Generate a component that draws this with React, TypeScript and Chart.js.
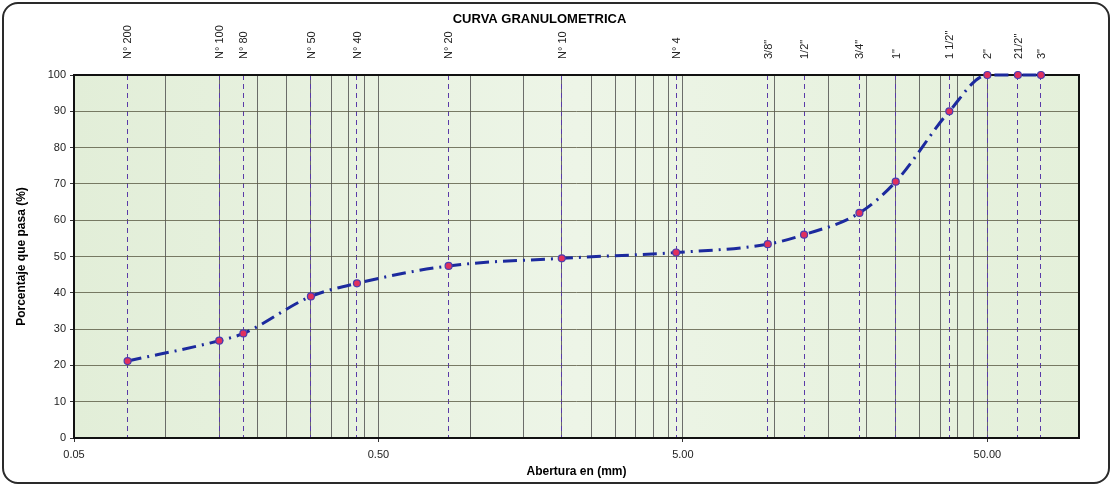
import React, { useEffect, useRef } from "react";
import { Chart, registerables } from "chart.js";

Chart.register(...registerables);

const FONT = "'Liberation Sans', Arial, sans-serif";

// Sieve openings (mm) and names
const sieveSizes = [0.075, 0.15, 0.18, 0.3, 0.425, 0.85, 2.0, 4.75, 9.5, 12.5, 19.0, 25.0, 37.5, 50.0, 63.0, 75.0];
const sieveLabels = ["N° 200", "N° 100", "N° 80", "N° 50", "N° 40", "N° 20", "N° 10", "N° 4", '3/8"', '1/2"', '3/4"', '1"', '1 1/2"', '2"', '21/2"', '3"'];
// Percent passing
const percentPassing = [21.2, 26.8, 28.8, 39.0, 42.6, 47.4, 49.5, 51.1, 53.4, 56.0, 62.0, 70.6, 90.0, 100, 100, 100];

// Bottom axis grid positions and labelled ticks
const gridValues = [
  0.05, 0.1, 0.15, 0.2, 0.25, 0.3, 0.35, 0.4, 0.45,
  0.5, 1, 1.5, 2, 2.5, 3, 3.5, 4, 4.5,
  5, 10, 15, 20, 25, 30, 35, 40, 45,
  50, 100,
];
const majorValues = [0.05, 0.5, 5, 50];
const majorLabels = ["0.05", "0.50", "5.00", "50.00"];

const TITLE_PAD_TOP = 12;
const TITLE_PAD_BOTTOM = -14;
const TITLE_H = TITLE_PAD_TOP + TITLE_PAD_BOTTOM + 13 * 1.2;

export default function App() {
  const canvasRef = useRef<HTMLCanvasElement>(null);

  useEffect(() => {
    document.body.style.margin = "0";
    const canvas = canvasRef.current;
    if (!canvas) return;

    const bgPlugin = {
      id: "plotBg",
      beforeDraw(chart: any) {
        const { ctx, chartArea: a } = chart;
        const g = ctx.createLinearGradient(a.left, 0, a.right, 0);
        g.addColorStop(0, "#e2eed8");
        g.addColorStop(0.5, "#edf5e7");
        g.addColorStop(1, "#e4f0da");
        ctx.save();
        ctx.fillStyle = g;
        ctx.fillRect(a.left, a.top, a.right - a.left, a.bottom - a.top);
        ctx.restore();
      },
      beforeDatasetsDraw(chart: any) {
        const { ctx, chartArea: a } = chart;
        ctx.save();
        ctx.strokeStyle = "#111";
        ctx.lineWidth = 2;
        ctx.strokeRect(a.left, a.top, a.right - a.left, a.bottom - a.top);
        ctx.restore();
      },
    };

    const chart = new Chart(canvas, {
      type: "line",
      data: {
        datasets: [
          {
            data: sieveSizes.map((s, i) => ({ x: s, y: percentPassing[i] })),
            xAxisID: "x",
            yAxisID: "y",
            borderColor: "#1c2a9e",
            borderWidth: 3,
            borderDash: [14, 6, 2, 6],
            cubicInterpolationMode: "monotone",
            pointRadius: 3.5,
            pointBackgroundColor: "#e0305e",
            pointBorderColor: "#4a3cb0",
            pointBorderWidth: 1.2,
            clip: false,
          } as any,
        ],
      },
      options: {
        animation: false,
        responsive: true,
        maintainAspectRatio: false,
        layout: { padding: { left: 0, top: 0, right: 34, bottom: 0 } },
        plugins: {
          legend: { display: false },
          tooltip: { enabled: false },
          title: {
            display: true,
            text: "CURVA GRANULOMETRICA",
            color: "#000",
            font: { family: FONT, size: 13, weight: "bold" },
            padding: { top: TITLE_PAD_TOP, bottom: TITLE_PAD_BOTTOM },
          },
        },
        scales: {
          x: {
            type: "logarithmic",
            position: "bottom",
            min: 0.05,
            max: 100,
            afterBuildTicks: (s: any) => {
              s.ticks = gridValues.map((v) => ({ value: v, major: majorValues.includes(v) }));
            },
            afterFit: (s: any) => {
              s.height = 49;
            },
            ticks: {
              autoSkip: false,
              maxRotation: 0,
              minRotation: 0,
              padding: 6,
              color: "#222",
              font: { family: FONT, size: 11 },
              callback: (v: any) => {
                const i = majorValues.indexOf(Number(v));
                return i >= 0 ? majorLabels[i] : "";
              },
            },
            grid: {
              color: "#4a4a4a",
              lineWidth: 0.8,
              tickLength: 4,
              tickColor: (c: any) => (c.tick && majorValues.includes(c.tick.value) ? "#000" : "rgba(0,0,0,0)"),
            },
            border: { display: false },
            title: {
              display: true,
              text: "Abertura en (mm)",
              color: "#000",
              font: { family: FONT, size: 12, weight: "bold" },
              padding: { top: 0, bottom: 8 },
            },
          },
          x2: {
            type: "logarithmic",
            position: "top",
            min: 0.05,
            max: 100,
            afterBuildTicks: (s: any) => {
              s.ticks = sieveSizes.map((v) => ({ value: v }));
            },
            afterFit: (s: any) => {
              s.height = 75 - TITLE_H;
            },
            ticks: {
              autoSkip: false,
              minRotation: 90,
              maxRotation: 90,
              padding: 16,
              labelOffset: 14,
              color: "#222",
              font: { family: FONT, size: 11 },
              callback: (_v: any, i: number) => sieveLabels[i],
            },
            grid: { color: "#5a3aa8", lineWidth: 1, drawTicks: false },
            border: { display: false, dash: [5, 4] },
          },
          y: {
            min: 0,
            max: 100,
            afterFit: (s: any) => {
              s.width = 74;
            },
            ticks: {
              stepSize: 10,
              padding: 4,
              color: "#222",
              font: { family: FONT, size: 11 },
            },
            grid: { color: "#5a5a44", lineWidth: 0.8, tickLength: 4, tickColor: "#000" },
            border: { display: false },
            title: {
              display: true,
              text: "Porcentaje que pasa (%)",
              color: "#000",
              font: { family: FONT, size: 12, weight: "bold" },
              padding: { top: 14, bottom: 0 },
            },
          },
        },
      } as any,
      plugins: [bgPlugin],
    });

    return () => chart.destroy();
  }, []);

  return (
    <div style={{ position: "relative", width: 1113, height: 487, background: "#fff" }}>
      <canvas ref={canvasRef} />
      <div
        style={{
          position: "absolute",
          left: 2,
          top: 2,
          width: 1108,
          height: 482,
          boxSizing: "border-box",
          border: "2px solid #2a2a2a",
          borderRadius: 16,
          pointerEvents: "none",
        }}
      />
    </div>
  );
}
